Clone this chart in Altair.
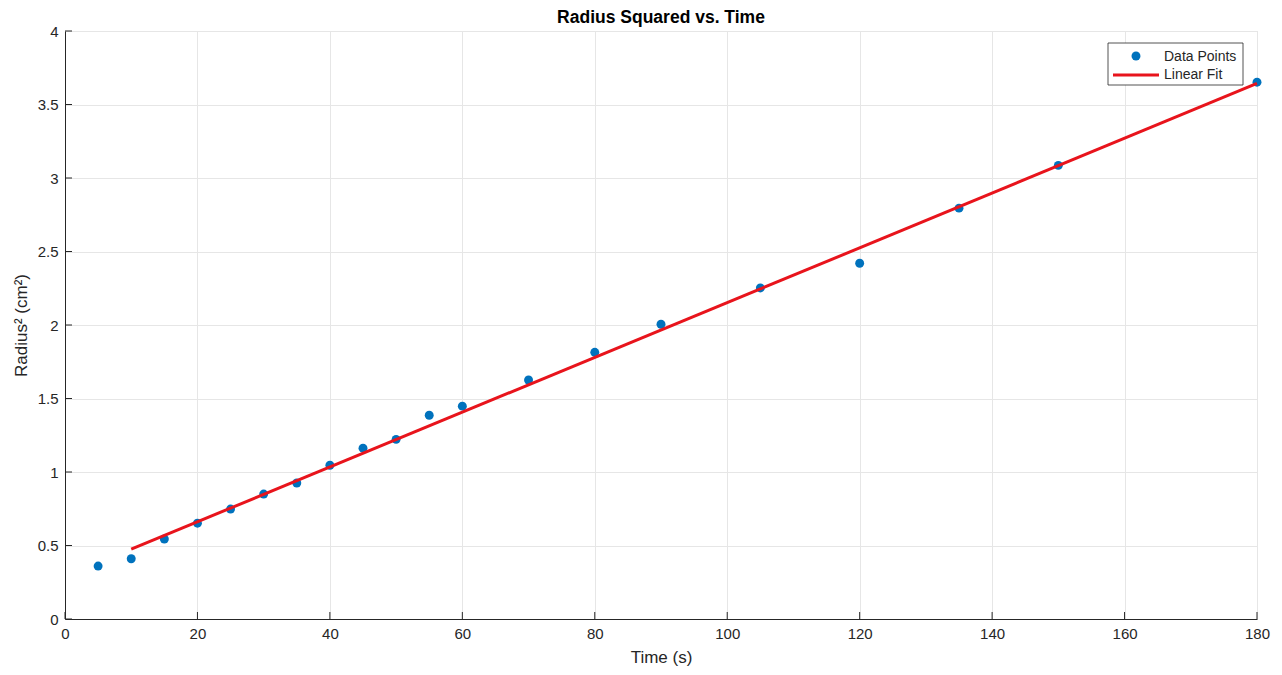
import altair as alt
import pandas as pd

# Data
time_s = [5, 10, 15, 20, 25, 30, 35, 40, 45, 50, 55, 60, 70, 80, 90, 105, 120, 135, 150, 180]
radius_sq = [0.36, 0.41, 0.544, 0.652, 0.748, 0.85, 0.925, 1.046, 1.162, 1.222, 1.386, 1.448,
             1.626, 1.814, 2.005, 2.252, 2.42, 2.795, 3.086, 3.652]
fit_x = [10, 180]
fit_y = [0.475, 3.643]
x_ticks = [0, 20, 40, 60, 80, 100, 120, 140, 160, 180]
y_ticks = [0, 0.5, 1, 1.5, 2, 2.5, 3, 3.5, 4]
legend_labels = ["Data Points", "Linear Fit"]
title_text = "Radius Squared vs. Time"

W, H = 1192, 588
FONT = "Liberation Sans"
AX = "#262626"

pts = pd.DataFrame({"t": time_s, "r2": radius_sq})
fit = pd.DataFrame({"t": fit_x, "r2": fit_y})

xs = alt.Scale(domain=[0, 180], nice=False, zero=False)
ys = alt.Scale(domain=[0, 4], nice=False, zero=False)

common = dict(grid=True, gridColor="#e6e6e6", domainColor=AX, labelColor=AX, titleColor=AX,
              tickSize=0, labelPadding=7, labelFontSize=15, titleFontSize=17,
              labelFont=FONT, titleFont=FONT, titleFontWeight="normal",
              labelFlush=False, format="~g")
x_axis = alt.Axis(values=x_ticks, title="Time (s)", titlePadding=8, **common)
y_axis = alt.Axis(values=y_ticks, title="Radius² (cm²)", titlePadding=7, **common)

points = alt.Chart(pts).mark_circle(size=80, color="#0072BD", opacity=1).encode(
    x=alt.X("t:Q", scale=xs, axis=x_axis),
    y=alt.Y("r2:Q", scale=ys, axis=y_axis),
)

line = alt.Chart(fit).mark_line(color="#E8141C", strokeWidth=3).encode(
    x=alt.X("t:Q", scale=xs),
    y=alt.Y("r2:Q", scale=ys),
)

# inward ticks (MATLAB style)
xt = alt.Chart(pd.DataFrame({"v": x_ticks})).mark_rule(color=AX, strokeWidth=1).encode(
    x=alt.X("v:Q", scale=xs), y=alt.value(H), y2=alt.value(H - 7))
yt = alt.Chart(pd.DataFrame({"v": y_ticks})).mark_rule(color=AX, strokeWidth=1).encode(
    y=alt.Y("v:Q", scale=ys), x=alt.value(0), x2=alt.value(7))

one = pd.DataFrame({"a": [0]})
title = alt.Chart(one).mark_text(text=title_text, align="center", baseline="middle",
                                 font=FONT, fontSize=17.5, fontWeight="bold",
                                 color="#000000").encode(
    x=alt.value(W / 2), y=alt.value(-13))
box = alt.Chart(one).mark_rect(fill="white", stroke=AX, strokeWidth=0.8).encode(
    x=alt.value(1043), x2=alt.value(1178), y=alt.value(12), y2=alt.value(54))
leg_pt = alt.Chart(one).mark_circle(size=80, color="#0072BD", opacity=1).encode(
    x=alt.value(1071), y=alt.value(25))
leg_ln = alt.Chart(one).mark_rule(color="#E8141C", strokeWidth=3).encode(
    x=alt.value(1048), x2=alt.value(1094), y=alt.value(44))
leg_t1 = alt.Chart(one).mark_text(text=legend_labels[0], align="left", baseline="middle",
                                  font=FONT, fontSize=14, color=AX).encode(
    x=alt.value(1099), y=alt.value(26))
leg_t2 = alt.Chart(one).mark_text(text=legend_labels[1], align="left", baseline="middle",
                                  font=FONT, fontSize=14, color=AX).encode(
    x=alt.value(1099), y=alt.value(44))

chart = alt.layer(points, line, xt, yt, box, leg_pt, leg_ln, leg_t1, leg_t2, title).properties(
    width=W, height=H,
    autosize=alt.AutoSizeParams(type="none"),
    padding={"left": 57, "top": 23, "right": 17, "bottom": 50},
).configure_view(stroke=None).configure(background="white")

chart.save("out.html", embed_options={"renderer": "svg", "actions": False})
